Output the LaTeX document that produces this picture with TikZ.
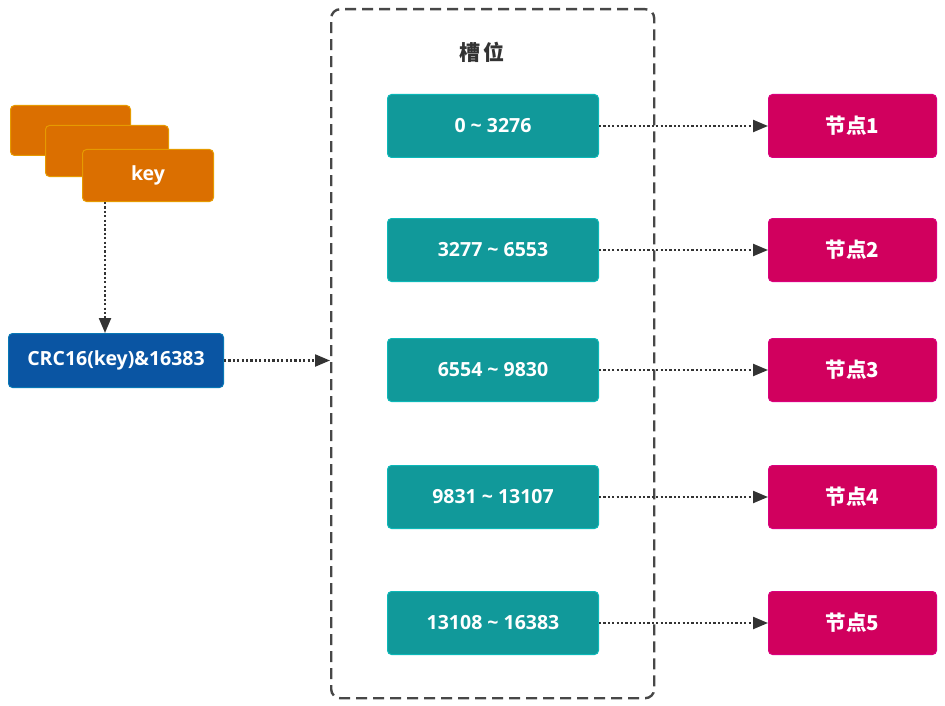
\documentclass[tikz,border=0pt]{standalone}
\usepackage{fontspec}
\setmainfont{Open Sans}
\newfontfamily\cjk{Noto Sans CJK SC}
\usetikzlibrary{arrows.meta,calc}
\definecolor{keyor}{HTML}{DB6F00}
\definecolor{crcblue}{HTML}{0A55A3}
\definecolor{slotteal}{HTML}{11999A}
\definecolor{nodemag}{HTML}{D1005E}
\definecolor{arrgray}{HTML}{333333}
\tikzset{
  box/.style={rounded corners=4pt, text=white, font=\fontsize{19.5}{23}\selectfont\bfseries, inner sep=0pt, anchor=north west},
  keybox/.style={box, fill=keyor, draw=keyor!70!yellow, line width=1pt},
  crcbox/.style={box, fill=crcblue, draw=crcblue!80!cyan, line width=1pt},
  slotbox/.style={box, fill=slotteal, draw=slotteal!70!cyan, line width=1pt, minimum width=211pt, minimum height=63pt},
  nodebox/.style={box, fill=nodemag, draw=nodemag!80!magenta, line width=1pt, minimum width=168pt, minimum height=63pt, font=\fontsize{20.5}{24}\selectfont\bfseries\cjk},
  arr/.style={arrgray, line width=2.2pt, dash pattern=on 2.2pt off 2.2pt, -{Triangle[length=15pt,width=12pt]}},
  frame/.style={draw=arrgray!90, line width=2.4pt, dash pattern=on 11pt off 6pt, rounded corners=9pt, inner sep=0pt, anchor=north west}
}
\begin{document}
\begin{tikzpicture}[x=1pt,y=-1pt]
\useasboundingbox (0,0) rectangle (945,706);
% slot frame
\node[frame, minimum width=323pt, minimum height=689pt] (frame) at (330,8) {};
\node[font=\fontsize{21}{24}\selectfont\bfseries\cjk, text=arrgray] (title) at (482,52) {槽\hspace{4pt}位};
% keys
\node[keybox, minimum width=120pt, minimum height=50pt] (key1) at (10,105) {};
\node[keybox, minimum width=123pt, minimum height=51pt] (key2) at (45,125) {};
\node[keybox, minimum width=131pt, minimum height=52pt] (key3) at (82,149) {key};
% crc
\node[crcbox, minimum width=215pt, minimum height=54pt] (crc) at (8,333) {CRC16(key)\&16383};
\coordinate (kx) at (105,0);
\draw[arr] (key3.south -| kx) -- (crc.north -| kx);
\draw[arr] (crc.east) -- (crc.east -| frame.west);
% slots
\node[slotbox] (s1) at (387,94) {0 \textasciitilde\ 3276};
\node[slotbox] (s2) at (387,218) {3277 \textasciitilde\ 6553};
\node[slotbox] (s3) at (387,338) {6554 \textasciitilde\ 9830};
\node[slotbox] (s4) at (387,465) {9831 \textasciitilde\ 13107};
\node[slotbox] (s5) at (387,591) {13108 \textasciitilde\ 16383};
% nodes
\node[nodebox] (n1) at (768,94) {节点1};
\node[nodebox] (n2) at (768,218) {节点2};
\node[nodebox] (n3) at (768,338) {节点3};
\node[nodebox] (n4) at (768,465) {节点4};
\node[nodebox] (n5) at (768,591) {节点5};
\foreach \i in {1,...,5}{\draw[arr] (s\i.east) -- (n\i.west);}
\end{tikzpicture}
\end{document}
